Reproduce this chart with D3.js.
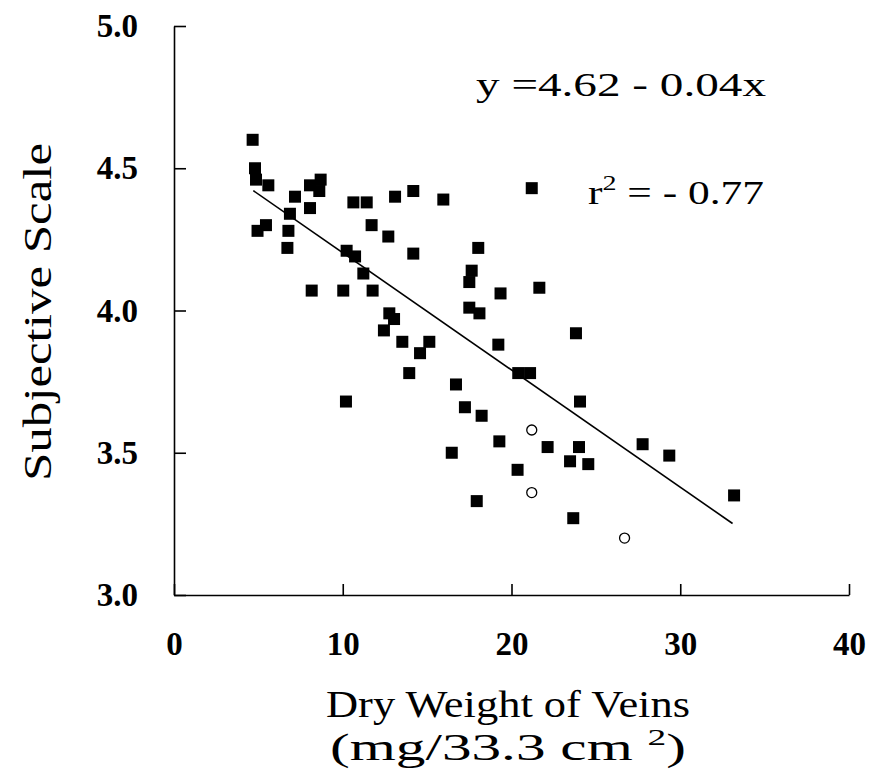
<!DOCTYPE html>
<html>
<head>
<meta charset="utf-8">
<script src="https://cdn.jsdelivr.net/npm/d3@7"></script>
<style>
body { margin: 0; background: #fff; }
.axis path, .axis line { stroke: #000; stroke-width: 1.6; }
</style>
</head>
<body>
<script>
var width = 871,
    height = 771;

var serif = "'Liberation Serif', 'Times New Roman', serif";

// filled squares
var dryWeight = [4.66, 4.80, 4.86, 5.59, 4.95, 5.45, 6.72, 6.78, 7.17, 6.87,
                 8.06, 8.69, 8.61, 8.06, 8.16, 10.03, 11.77, 10.63, 11.42, 13.10,
                 11.71, 12.70, 10.23, 10.73, 11.22, 12.76, 13.04, 12.44, 14.18, 15.96,
                 14.18, 18.03, 17.64, 17.50, 19.35, 17.50, 18.10, 13.53, 15.13, 14.58,
                 13.94, 16.71, 17.24, 18.23, 10.19, 19.22, 21.20, 21.65, 20.40, 21.10,
                 23.82, 24.06, 19.28, 16.46, 22.14, 20.36, 17.94, 23.66, 23.47, 24.00,
                 24.55, 27.77, 29.35, 33.19];
var subjScale = [4.60, 4.50, 4.46, 4.44, 4.28, 4.30, 4.22, 4.28, 4.40, 4.34,
                 4.44, 4.46, 4.42, 4.36, 4.07, 4.07, 4.07, 4.38, 4.38, 4.40,
                 4.30, 4.26, 4.21, 4.19, 4.13, 3.99, 3.97, 3.93, 4.42, 4.39,
                 4.20, 4.22, 4.14, 4.10, 4.06, 4.01, 3.99, 3.89, 3.89, 3.85,
                 3.78, 3.74, 3.66, 3.63, 3.68, 3.88, 4.43, 4.08, 3.78, 3.78,
                 3.92, 3.68, 3.54, 3.50, 3.52, 3.44, 3.33, 3.27, 3.47, 3.52,
                 3.46, 3.53, 3.49, 3.35];

// open circles
var openX = [21.2, 21.2, 26.7];
var openY = [3.58, 3.36, 3.20];

// regression line as drawn
var fitX = [4.7, 33.1];
var fitIntercept = 4.615,
    fitSlope = -0.0412;

var xTicks = [0, 10, 20, 30, 40],
    yTicks = [3.0, 3.5, 4.0, 4.5, 5.0];

var x = d3.scaleLinear().domain([0, 40]).range([174, 849]);
var y = d3.scaleLinear().domain([3, 5]).range([595, 26]);

var svg = d3.select("body").append("svg")
    .attr("width", width)
    .attr("height", height)
    .attr("font-family", serif);

//axes, ticks pointing in
svg.append("g")
    .attr("class", "axis")
    .attr("transform", "translate(0,595)")
    .call(d3.axisBottom(x).tickValues(xTicks).tickFormat(d3.format("d"))
        .tickSizeInner(-11).tickSizeOuter(0).tickPadding(37));

svg.append("g")
    .attr("class", "axis")
    .attr("transform", "translate(174,0)")
    .call(d3.axisLeft(y).tickValues(yTicks).tickFormat(d3.format(".1f"))
        .tickSizeInner(-12).tickSizeOuter(0).tickPadding(36));

svg.selectAll(".axis")
    .attr("font-family", serif)
    .attr("font-size", 33)
    .attr("font-weight", "bold");
svg.selectAll(".axis text").attr("fill", "#000");
svg.selectAll(".axis .domain").attr("fill", "none");

// fit line
svg.append("line")
    .attr("x1", x(fitX[0]))
    .attr("y1", y(fitIntercept + fitSlope * fitX[0]))
    .attr("x2", x(fitX[1]))
    .attr("y2", y(fitIntercept + fitSlope * fitX[1]))
    .attr("stroke", "#000")
    .attr("stroke-width", 1.6);

svg.selectAll("rect.pt")
    .data(d3.range(dryWeight.length))
    .enter().append("rect")
    .attr("class", "pt")
    .attr("x", function(i) { return x(dryWeight[i]) - 6; })
    .attr("y", function(i) { return y(subjScale[i]) - 6; })
    .attr("width", 12)
    .attr("height", 12)
    .attr("fill", "#000");

svg.selectAll("circle.open")
    .data(d3.range(openX.length))
    .enter().append("circle")
    .attr("class", "open")
    .attr("cx", function(i) { return x(openX[i]); })
    .attr("cy", function(i) { return y(openY[i]); })
    .attr("r", 5)
    .attr("fill", "#fff")
    .attr("stroke", "#000")
    .attr("stroke-width", 1.3);

// labels
svg.append("text")
    .attr("transform", "translate(51,312) rotate(-90)")
    .attr("text-anchor", "middle")
    .attr("font-size", 40)
    .attr("textLength", 338)
    .attr("lengthAdjust", "spacingAndGlyphs")
    .text("Subjective Scale");

svg.append("text")
    .attr("x", 508).attr("y", 717)
    .attr("text-anchor", "middle")
    .attr("font-size", 38)
    .attr("textLength", 364)
    .attr("lengthAdjust", "spacingAndGlyphs")
    .text("Dry Weight of Veins");

var unit = svg.append("text")
    .attr("x", 508).attr("y", 760)
    .attr("text-anchor", "middle")
    .attr("font-size", 38)
    .attr("textLength", 356)
    .attr("lengthAdjust", "spacingAndGlyphs");
unit.append("tspan").text("(mg/33.3 cm ");
unit.append("tspan").attr("font-size", 24).attr("dy", -15).text("2");
unit.append("tspan").attr("dy", 15).text(")");

svg.append("text")
    .attr("x", 476).attr("y", 96)
    .attr("font-size", 34)
    .attr("textLength", 290)
    .attr("lengthAdjust", "spacingAndGlyphs")
    .text("y =4.62 - 0.04x");

var r2 = svg.append("text")
    .attr("x", 588).attr("y", 204)
    .attr("font-size", 34)
    .attr("textLength", 176)
    .attr("lengthAdjust", "spacingAndGlyphs");
r2.append("tspan").text("r");
r2.append("tspan").attr("font-size", 22).attr("dy", -14).text("2");
r2.append("tspan").attr("dy", 14).text(" = - 0.77");
</script>
</body>
</html>
